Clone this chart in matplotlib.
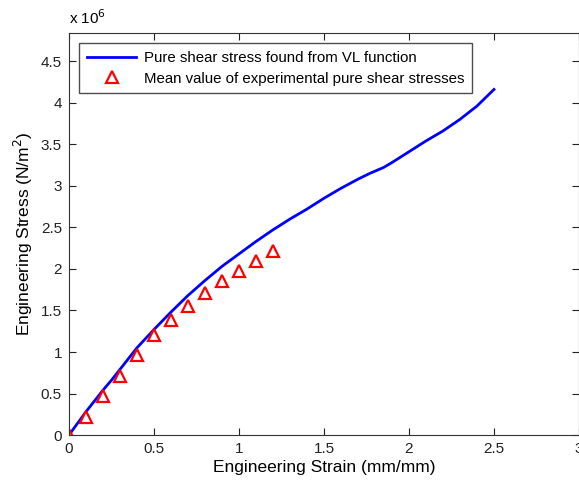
import matplotlib.pyplot as plt
from matplotlib.ticker import FuncFormatter

plt.rcParams['font.family'] = ['Liberation Sans', 'DejaVu Sans']

# VL function curve (stress in 1e6 N/m^2)
vl_strain = [0.0, 0.05, 0.1, 0.15, 0.2, 0.25, 0.3, 0.35, 0.4, 0.5, 0.6, 0.7, 0.8, 0.9,
             1.0, 1.1, 1.2, 1.3, 1.4, 1.5, 1.6, 1.7, 1.77, 1.85, 1.9, 2.0, 2.1, 2.2,
             2.3, 2.4, 2.5]
vl_stress = [0.0, 0.14, 0.28, 0.41, 0.54, 0.66, 0.79, 0.92, 1.05, 1.27, 1.48, 1.68,
             1.86, 2.03, 2.18, 2.33, 2.47, 2.60, 2.72, 2.85, 2.97, 3.08, 3.15, 3.22,
             3.28, 3.41, 3.54, 3.66, 3.80, 3.96, 4.16]

# experimental mean values
exp_strain = [0.0, 0.1, 0.2, 0.3, 0.4, 0.5, 0.6, 0.7, 0.8, 0.9, 1.0, 1.1, 1.2]
exp_stress = [0.0, 0.22, 0.47, 0.71, 0.96, 1.20, 1.39, 1.55, 1.71, 1.85, 1.98, 2.10, 2.21]

fig = plt.figure(figsize=(5.79, 4.84), dpi=100)
ax = fig.add_axes([0.119, 0.101, 0.881, 0.831])

ax.plot(vl_strain, vl_stress, color='#0000ff', lw=2,
        label='Pure shear stress found from VL function')
ax.plot(exp_strain, exp_stress, ls='none', marker='^', ms=8, mfc='white',
        mec='#ff0000', mew=1.6, label='Mean value of experimental pure shear stresses')

ax.set_xlim(0, 3)
ax.set_ylim(0, 4.84)
ax.set_xticks([0, 0.5, 1, 1.5, 2, 2.5, 3])
ax.set_yticks([0, 0.5, 1, 1.5, 2, 2.5, 3, 3.5, 4, 4.5])
fmt = FuncFormatter(lambda v, p: '%g' % v)
ax.xaxis.set_major_formatter(fmt)
ax.yaxis.set_major_formatter(fmt)
ax.tick_params(direction='in', top=True, right=True, length=5, labelsize=11,
               colors='#222222', pad=5)
for s in ax.spines.values():
    s.set_color('#333333')

ax.set_xlabel('Engineering Strain (mm/mm)', fontsize=12.5, labelpad=3)
ax.set_ylabel('Engineering Stress (N/m$^2$)', fontsize=12.5, labelpad=4)
ax.text(0.0, 1.015, 'x 10$^6$', transform=ax.transAxes, fontsize=11,
        ha='left', va='bottom')

leg = ax.legend(loc='upper left', fontsize=10.8, frameon=True, fancybox=False,
                edgecolor='#222222', borderaxespad=0.7, handlelength=3.3,
                handletextpad=0.5, borderpad=0.5, labelspacing=0.45)
leg.get_frame().set_linewidth(1.0)

fig.savefig('out.png', dpi=100)
